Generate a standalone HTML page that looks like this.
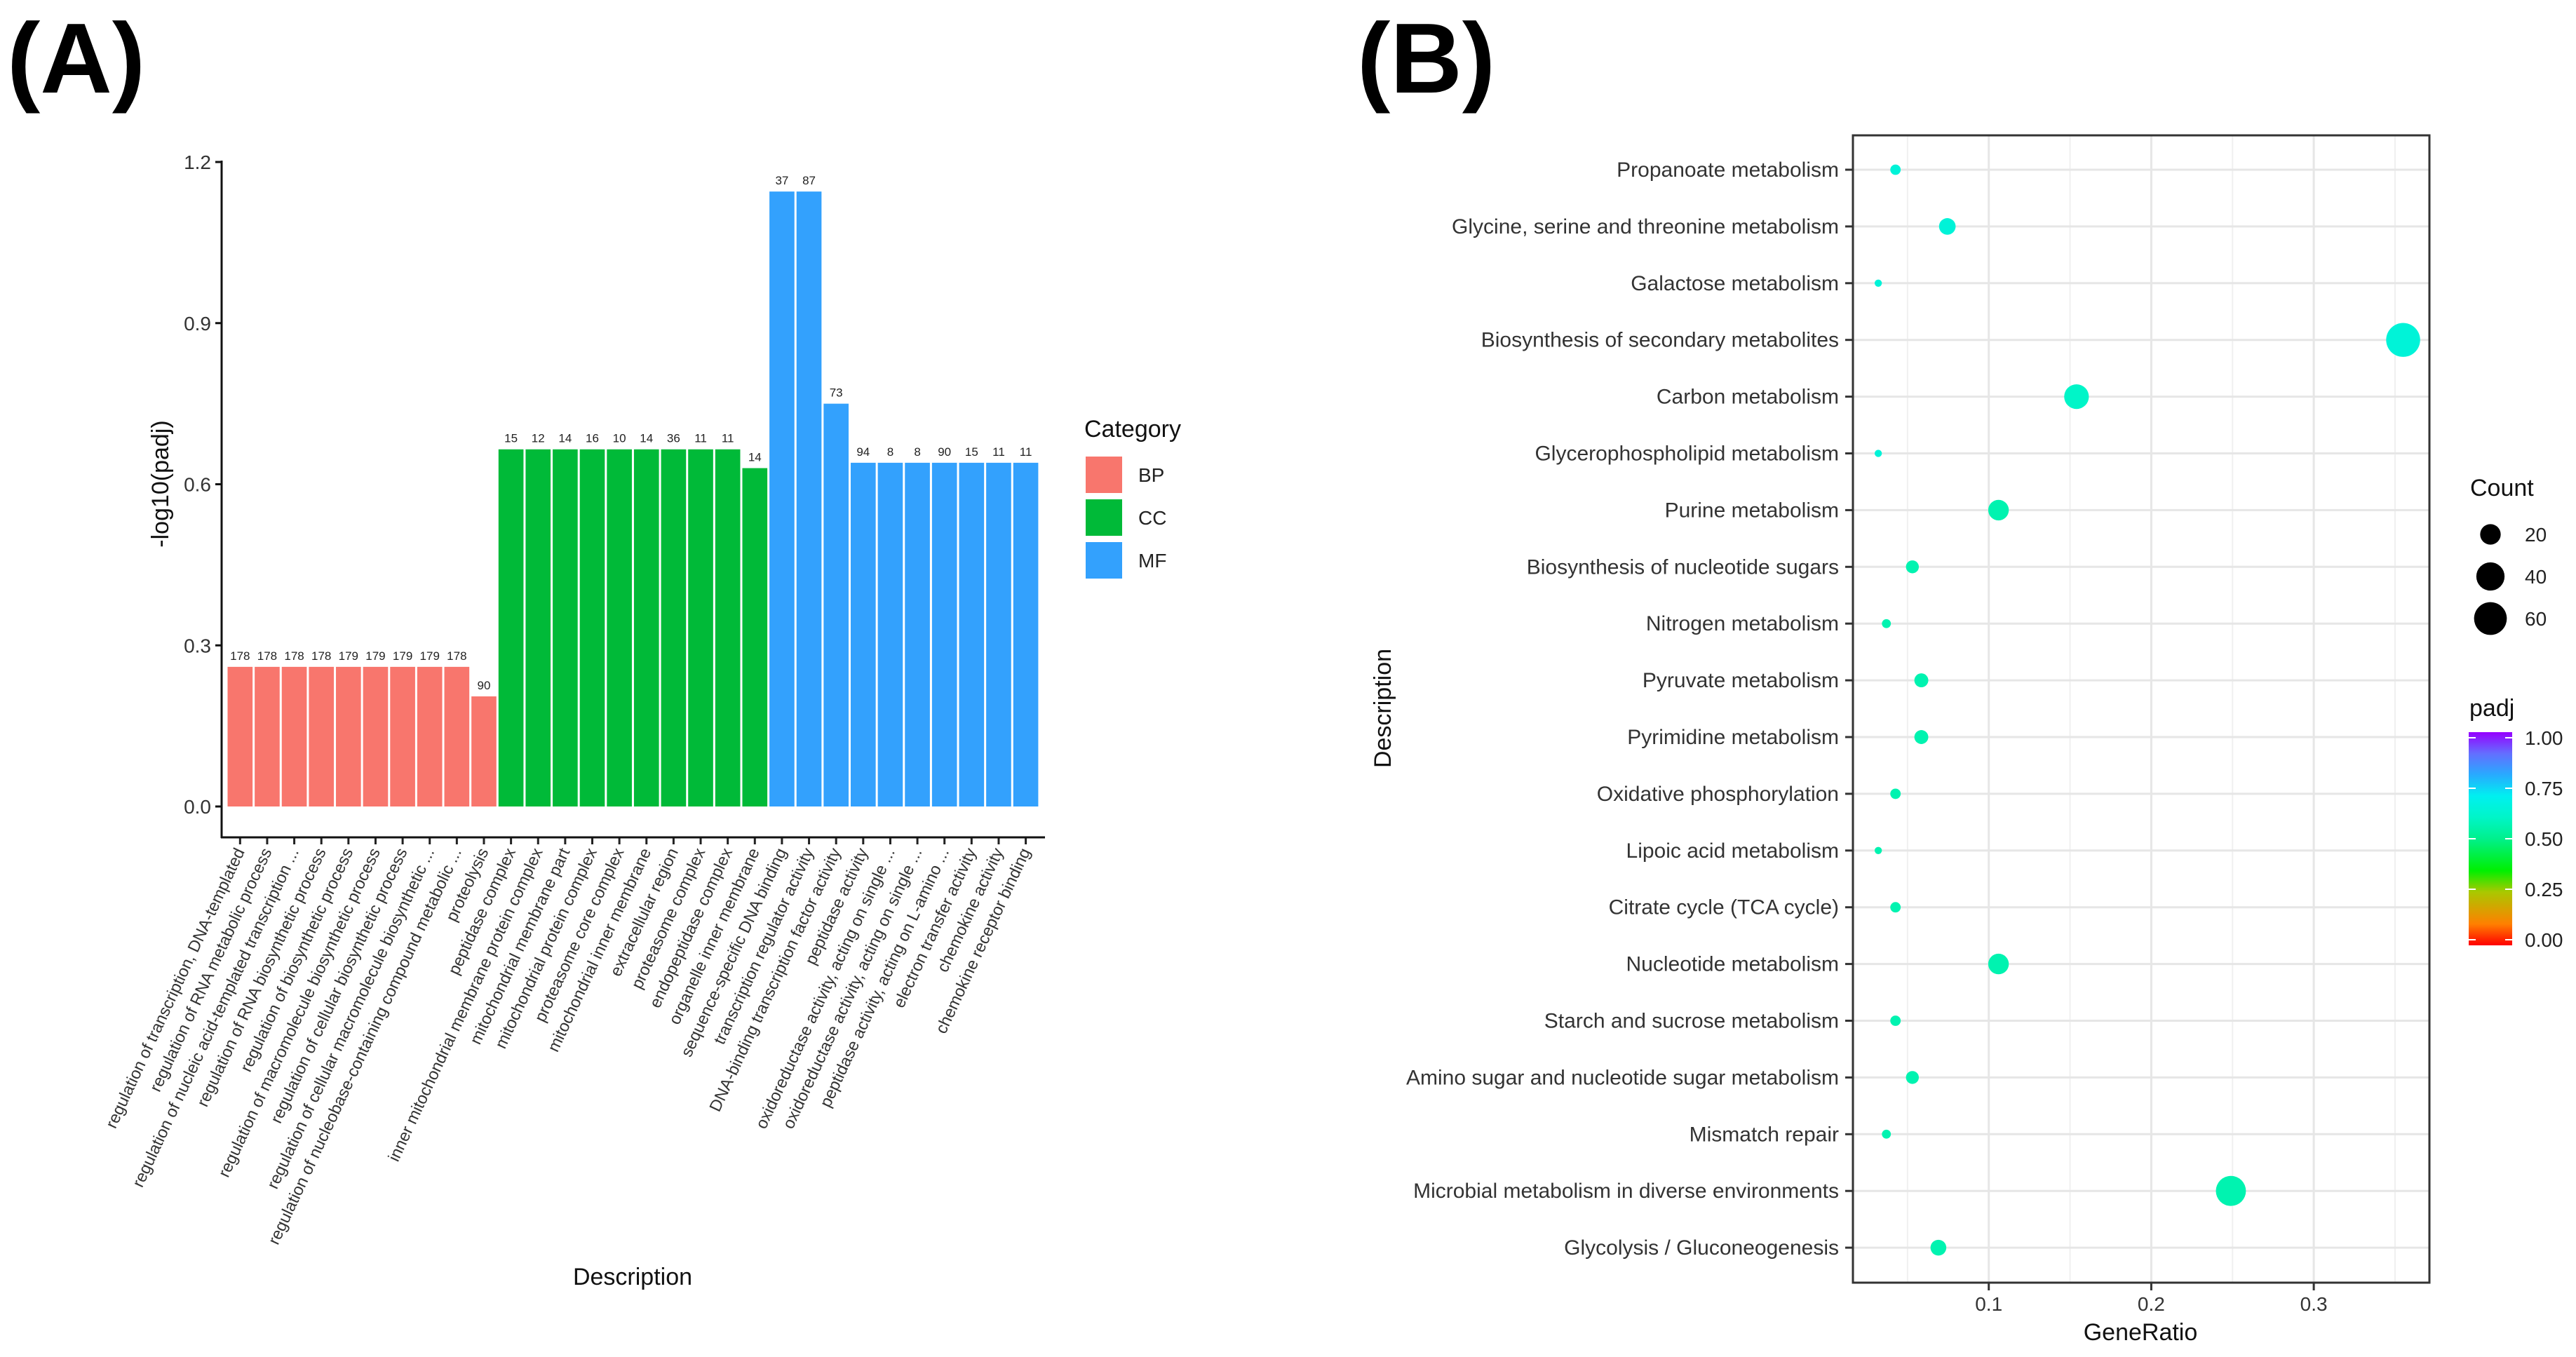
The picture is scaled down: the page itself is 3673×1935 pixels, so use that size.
<!DOCTYPE html>
<html><head><meta charset="utf-8">
<style>
html,body{margin:0;padding:0;background:#fff;}
svg{display:block;font-family:"Liberation Sans",Arial,sans-serif;}
</style></head>
<body>
<svg id="fig" width="3673" height="1935" viewBox="0 0 3673 1935" xmlns="http://www.w3.org/2000/svg">
<rect width="3673" height="1935" fill="#fff"/>
<text x="10" y="132" font-size="142" font-weight="bold">(A)</text>
<text x="1935" y="132" font-size="142" font-weight="bold">(B)</text>
<g id="pa"></g>
<g id="pb"></g>
</svg>
<script>
// ---------- Panel A data ----------
const barTerms = ["regulation of transcription, DNA-templated","regulation of RNA metabolic process","regulation of nucleic acid-templated transcription ...","regulation of RNA biosynthetic process","regulation of biosynthetic process","regulation of macromolecule biosynthetic process","regulation of cellular biosynthetic process","regulation of cellular macromolecule biosynthetic ...","regulation of nucleobase-containing compound metabolic ...","proteolysis",
"peptidase complex","inner mitochondrial membrane protein complex","mitochondrial membrane part","mitochondrial protein complex","proteasome core complex","mitochondrial inner membrane","extracellular region","proteasome complex","endopeptidase complex","organelle inner membrane",
"sequence-specific DNA binding","transcription regulator activity","DNA-binding transcription factor activity","peptidase activity","oxidoreductase activity, acting on single ...","oxidoreductase activity, acting on single ...","peptidase activity, acting on L-amino ...","electron transfer activity","chemokine activity","chemokine receptor binding"];
const barCategory = ["BP","BP","BP","BP","BP","BP","BP","BP","BP","BP","CC","CC","CC","CC","CC","CC","CC","CC","CC","CC","MF","MF","MF","MF","MF","MF","MF","MF","MF","MF"];
const barValues = [0.26,0.26,0.26,0.26,0.26,0.26,0.26,0.26,0.26,0.205,0.665,0.665,0.665,0.665,0.665,0.665,0.665,0.665,0.665,0.63,1.145,1.145,0.75,0.64,0.64,0.64,0.64,0.64,0.64,0.64];
const barCounts = [178,178,178,178,179,179,179,179,178,90,15,12,14,16,10,14,36,11,11,14,37,87,73,94,8,8,90,15,11,11];
const yTicks = [0.0,0.3,0.6,0.9,1.2];
const yTickLabels = ["0.0","0.3","0.6","0.9","1.2"];
const catNames = ["BP","CC","MF"];

// ---------- Panel B data ----------
const pathways = ["Propanoate metabolism","Glycine, serine and threonine metabolism","Galactose metabolism","Biosynthesis of secondary metabolites","Carbon metabolism","Glycerophospholipid metabolism","Purine metabolism","Biosynthesis of nucleotide sugars","Nitrogen metabolism","Pyruvate metabolism","Pyrimidine metabolism","Oxidative phosphorylation","Lipoic acid metabolism","Citrate cycle (TCA cycle)","Nucleotide metabolism","Starch and sucrose metabolism","Amino sugar and nucleotide sugar metabolism","Mismatch repair","Microbial metabolism in diverse environments","Glycolysis / Gluconeogenesis"];
const geneRatio = [0.0426,0.0745,0.032,0.355,0.154,0.032,0.106,0.053,0.037,0.0585,0.0585,0.0426,0.032,0.0426,0.106,0.0426,0.053,0.037,0.249,0.069];
const geneCount = [8,14,6,67,29,6,20,10,7,11,11,8,6,8,20,8,10,7,47,13];
const padj = [0.64,0.64,0.64,0.64,0.6,0.64,0.56,0.56,0.56,0.56,0.56,0.56,0.56,0.56,0.56,0.56,0.56,0.56,0.56,0.56];
const xTicksB = [0.1,0.2,0.3];
const xTickLabelsB = ["0.1","0.2","0.3"];
const sizeLegend = [20,40,60];
const padjTicks = [0,0.25,0.5,0.75,1];
const padjTickLabels = ["0.00","0.25","0.50","0.75","1.00"];

const NS = "http://www.w3.org/2000/svg";
function el(tag, attrs, parent, text){
  const e = document.createElementNS(NS, tag);
  for (const k in attrs) e.setAttribute(k, attrs[k]);
  if (text !== undefined) e.textContent = text;
  parent.appendChild(e);
  return e;
}

// ===== Panel A =====
const pa = document.getElementById('pa');
const A = {x0:316, yBase:1150, y12:231, pitch:38.63, first:323, axisY:1194};
const yA = v => A.yBase - v*(A.yBase-A.y12)/1.2;
const xA = i => A.first + i*A.pitch + A.pitch/2;
const catColor = {BP:"#f8766d", CC:"#00ba38", MF:"#33a1fd"};

barValues.forEach((v,i)=>{
  const r = el('rect',{x:xA(i)-A.pitch/2+1.5, y:yA(v), width:A.pitch-3, height:yA(0)-yA(v), fill:catColor[barCategory[i]]}, pa);
  
  
  const t = el('text',{x:xA(i), y:yA(v)-10, "font-size":17, "text-anchor":"middle", fill:"#222"}, pa, String(barCounts[i]));
  
  
  const tk = el('line',{x1:xA(i),x2:xA(i),y1:A.axisY,y2:A.axisY+10,stroke:"#222","stroke-width":3}, pa);
  
  
  const lb = el('text',{transform:`translate(${xA(i)+7},${A.axisY+20}) rotate(-65)`, "font-size":23.5, "text-anchor":"end", fill:"#333"}, pa, barTerms[i]);
  
  
});
const ya = el('line',{x1:A.x0,x2:A.x0,y1:A.y12-2,y2:A.axisY+1,stroke:"#111","stroke-width":3}, pa);


const xa = el('line',{x1:A.x0-1,x2:1490,y1:A.axisY,y2:A.axisY,stroke:"#111","stroke-width":3}, pa);


yTicks.forEach((v,i)=>{
  const tk = el('line',{x1:A.x0-9,x2:A.x0,y1:yA(v),y2:yA(v),stroke:"#111","stroke-width":3}, pa);
  
  
  const t = el('text',{x:A.x0-15,y:yA(v)+10,"font-size":28,"text-anchor":"end",fill:"#333"}, pa, yTickLabels[i]);
  
  
});
const yt = el('text',{transform:"translate(240,690) rotate(-90)","font-size":34,"text-anchor":"middle",fill:"#111"}, pa, "-log10(padj)");


const xt = el('text',{x:902,y:1832,"font-size":34,"text-anchor":"middle",fill:"#111"}, pa, "Description");


const lt = el('text',{x:1546,y:623,"font-size":34,fill:"#111"}, pa, "Category");


catNames.forEach((c,i)=>{
  const y = 651 + i*61;
  const k = el('rect',{x:1548,y:y,width:52,height:52,fill:catColor[c]}, pa);
  
  
  const t = el('text',{x:1623,y:y+36,"font-size":28,fill:"#222"}, pa, c);
  
  
});

// ===== Panel B =====
const pb = document.getElementById('pb');
const B = {left:2642, right:3464, top:193, bottom:1829, x0:2604, perUnit:2317, row1:242, rowStep:80.9};
const xB = v => B.x0 + v*B.perUnit;
const yB = i => B.row1 + i*B.rowStep;
const rB = c => -9 + 7.9*Math.log(c);
function padjColor(p){
  const stops=[[0,[255,0,0]],[0.1,[255,128,0]],[0.25,[170,200,0]],[0.35,[0,240,0]],[0.5,[0,240,140]],[0.6,[0,245,200]],[0.7,[0,240,240]],[0.8,[40,170,255]],[0.9,[100,110,255]],[1,[150,0,255]]];
  for(let i=1;i<stops.length;i++){
    if(p<=stops[i][0]){
      const [a,ca]=stops[i-1],[b,cb]=stops[i];const t=(p-a)/(b-a);
      return `rgb(${ca.map((v,j)=>Math.round(v+(cb[j]-v)*t)).join(',')})`;
    }
  }
  return "rgb(150,0,255)";
}
[0.05,0.15,0.25,0.35].forEach(v=>{
  const g = el('line',{x1:xB(v),x2:xB(v),y1:B.top,y2:B.bottom,stroke:"#f0f0f0","stroke-width":2}, pb);
  
  
});
xTicksB.forEach(v=>{
  const g = el('line',{x1:xB(v),x2:xB(v),y1:B.top,y2:B.bottom,stroke:"#e6e6e6","stroke-width":3}, pb);
  
  
});
pathways.forEach((p,i)=>{
  const g = el('line',{x1:B.left,x2:B.right,y1:yB(i),y2:yB(i),stroke:"#e6e6e6","stroke-width":3}, pb);
  
  
});
pathways.forEach((p,i)=>{
  const c = el('circle',{cx:xB(geneRatio[i]),cy:yB(i),r:rB(geneCount[i]),fill:padjColor(padj[i])}, pb);
  
  
  const tk = el('line',{x1:B.left-11,x2:B.left,y1:yB(i),y2:yB(i),stroke:"#333","stroke-width":3}, pb);
  
  
  const t = el('text',{x:B.left-20,y:yB(i)+10,"font-size":30,"text-anchor":"end",fill:"#333"}, pb, p);
  
  
});
const bd = el('rect',{x:B.left,y:B.top,width:B.right-B.left,height:B.bottom-B.top,fill:"none",stroke:"#333","stroke-width":3}, pb);


xTicksB.forEach((v,i)=>{
  const tk = el('line',{x1:xB(v),x2:xB(v),y1:B.bottom,y2:B.bottom+11,stroke:"#333","stroke-width":3}, pb);
  
  
  const t = el('text',{x:xB(v),y:B.bottom+40,"font-size":28,"text-anchor":"middle",fill:"#333"}, pb, xTickLabelsB[i]);
  
  
});
const gx = el('text',{x:3052,y:1911,"font-size":34,"text-anchor":"middle",fill:"#111"}, pb, "GeneRatio");


const gy = el('text',{transform:"translate(1983,1010) rotate(-90)","font-size":34,"text-anchor":"middle",fill:"#111"}, pb, "Description");


const ct = el('text',{x:3522,y:707,"font-size":34,fill:"#111"}, pb, "Count");


sizeLegend.forEach((c,i)=>{
  const y = 762 + i*60;
  const d = el('circle',{cx:3551,cy:y,r:rB(c),fill:"#000"}, pb);
  
  
  const t = el('text',{x:3600,y:y+10,"font-size":28,fill:"#222"}, pb, String(c));
  
  
});
const pt = el('text',{x:3521,y:1021,"font-size":34,fill:"#111"}, pb, "padj");


const defs = el('defs',{}, pb);
const lg = el('linearGradient',{id:"padjgrad",x1:0,y1:1,x2:0,y2:0}, defs);
for(let k=0;k<=20;k++){ el('stop',{offset:k/20,"stop-color":padjColor(k/20)}, lg); }
const cb0 = 1340, cb1 = 1052;
const yC = v => cb0 + (cb1-cb0)*v;
const cbar = el('rect',{x:3520,y:cb1-8,width:62,height:cb0-cb1+16,fill:"url(#padjgrad)"}, pb);


padjTicks.forEach((v,i)=>{
  const a = el('line',{x1:3520,x2:3530,y1:yC(v),y2:yC(v),stroke:"#fff","stroke-width":2}, pb);
  
  
  const b = el('line',{x1:3572,x2:3582,y1:yC(v),y2:yC(v),stroke:"#fff","stroke-width":2}, pb);
  
  
  const t = el('text',{x:3600,y:yC(v)+10,"font-size":28,fill:"#222"}, pb, padjTickLabels[i]);
  
  
});
</script>
</body></html>
